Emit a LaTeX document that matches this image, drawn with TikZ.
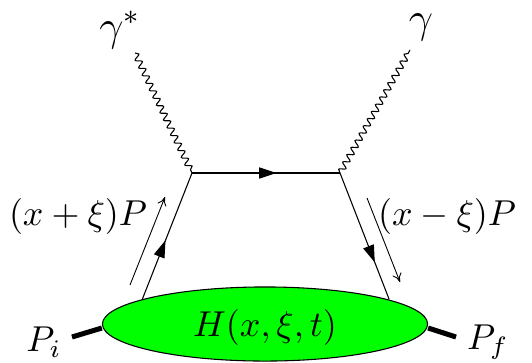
\documentclass[tikz,border=0pt]{standalone}
\usepackage{amsmath}
\usetikzlibrary{positioning,arrows.meta,shapes.geometric,decorations.pathmorphing,decorations.markings}

\begin{document}
\begin{tikzpicture}[
  x=0.278pt, y=-0.278pt,
  photon/.style={decorate, decoration={snake, amplitude=0.85pt, segment length=2.3pt}, line width=0.3pt},
  fermion/.style={line width=0.3pt, postaction={decorate},
    decoration={markings, mark=at position #1 with {\arrow{Triangle[length=4.8pt, width=3.1pt]}}}},
  fermion/.default=0.55,
  hadron/.style={line width=1.4pt},
  mom/.style={-{To[length=2.4pt, width=2.6pt]}, line width=0.25pt},
  blob/.style={ellipse, draw, fill=green, line width=0.3pt, inner sep=0pt, minimum width=90.4pt, minimum height=20.6pt},
  plab/.style={inner sep=0.5pt}
]
\useasboundingbox (0,0) rectangle (532,362);
% vertices
\coordinate (vin) at (192,173);
\coordinate (vout) at (340,173);
\coordinate (qin) at (142,300);
\coordinate (qout) at (389,299);
% hadronic blob
\node[blob] (gpd) at (265,324) {};
\node (hlab) at (265,327) {$H(x,\xi,t)$};
% photons
\node[plab] (gstar) at (120,30) {\large$\gamma^*$};
\node[plab] (gam) at (421,27) {\large$\gamma$};
\coordinate (gsend) at (135,53);
\coordinate (gend) at (410,50);
\draw[photon] (gsend) -- (vin);
\draw[photon] (vout) -- (gend);
% quark lines
\draw[fermion=0.57] (vin) -- (vout);
\draw[fermion=0.47] (qin) -- (vin);
\draw[fermion=0.71] (vout) -- (qout);
% momentum flow
\coordinate (pa) at (130,285);
\coordinate (pb) at (165,197);
\coordinate (pc) at (367,198);
\coordinate (pd) at (400,282);
\draw[mom] (pa) -- (pb);
\draw[mom] (pc) -- (pd);
\node (kin) at (78,216) {$(x+\xi)P$};
\node (kout) at (447,216) {$(x-\xi)P$};
% external hadrons
\coordinate (hin) at (72,337);
\coordinate (hout) at (456,337);
\draw[hadron] (hin) -- (gpd.west |- 0,328);
\draw[hadron] (gpd.east |- 0,328) -- (hout);
\node (pi) at (44,342) {$P_i$};
\node (pf) at (488,342) {$P_f$};
\end{tikzpicture}
\end{document}
